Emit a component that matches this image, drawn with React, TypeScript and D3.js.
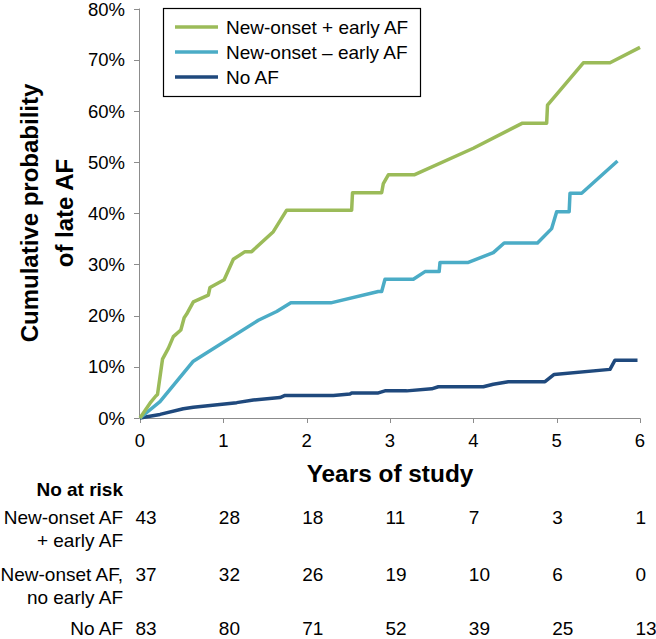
import React from "react";
import * as d3 from "d3";

type Pt = [number, number];

const seriesNames = ["New-onset + early AF", "New-onset – early AF", "No AF"];
const seriesColors = ["#9BBB59", "#4BACC6", "#1F497D"];

const earlyAF: Pt[] = [
  [0, 0], [0.12, 2.9], [0.19, 4.3], [0.21, 4.6], [0.27, 11.5], [0.34, 13.6], [0.4, 15.9],
  [0.49, 17.2], [0.53, 19.6], [0.56, 20.3], [0.64, 22.7], [0.82, 24.0], [0.84, 25.5],
  [1.01, 27.0], [1.12, 31.0], [1.26, 32.5], [1.34, 32.5], [1.6, 36.4], [1.76, 40.6],
  [2.54, 40.6], [2.55, 44.0], [2.9, 44.0], [2.92, 45.8], [2.98, 47.5], [3.29, 47.5],
  [4.0, 52.7], [4.59, 57.6], [4.88, 57.6], [4.89, 61.1], [5.32, 69.4], [5.64, 69.4], [6.0, 72.4],
];
const noEarlyAF: Pt[] = [
  [0, 0], [0.24, 3.2], [0.64, 11.1], [1.42, 19.1], [1.64, 20.8], [1.81, 22.5], [2.29, 22.5],
  [2.86, 24.7], [2.9, 24.7], [2.94, 27.1], [3.28, 27.1], [3.42, 28.6], [3.59, 28.6], [3.6, 30.4],
  [3.94, 30.4], [4.24, 32.3], [4.37, 34.2], [4.77, 34.2], [4.94, 37.0], [5.0, 40.3], [5.15, 40.3],
  [5.16, 43.9], [5.3, 43.9], [5.73, 50.2],
];
const noAF: Pt[] = [
  [0, 0], [0.1, 0.3], [0.24, 0.7], [0.52, 1.8], [0.64, 2.1], [1.16, 3.0], [1.36, 3.5], [1.68, 4.0],
  [1.74, 4.4], [2.32, 4.4], [2.52, 4.7], [2.54, 4.9], [2.86, 4.9], [2.94, 5.3], [3.2, 5.3],
  [3.5, 5.7], [3.58, 6.1], [4.12, 6.1], [4.24, 6.6], [4.42, 7.1], [4.86, 7.1], [4.97, 8.5],
  [5.64, 9.5], [5.7, 11.3], [5.97, 11.3],
];
const seriesData = [earlyAF, noEarlyAF, noAF];

const xTicks = [0, 1, 2, 3, 4, 5, 6];
const yTicks = [0, 10, 20, 30, 40, 50, 60, 70, 80];

const riskRowLabels = [
  ["New-onset AF", "+ early AF"],
  ["New-onset AF,", "no early AF"],
  ["No AF"],
];
const riskEarly = [43, 28, 18, 11, 7, 3, 1];
const riskNoEarly = [37, 32, 26, 19, 10, 6, 0];
const riskNoAF = [83, 80, 71, 52, 39, 25, 13];
const riskRows = [riskEarly, riskNoEarly, riskNoAF];

const FONT = "'Liberation Sans', Arial, Helvetica, sans-serif";

export default function App() {
  const x = d3.scaleLinear().domain([0, 6]).range([140, 640]);
  const y = d3.scaleLinear().domain([0, 80]).range([418, 8.5]);
  const line = d3
    .line<Pt>()
    .x((d) => x(d[0]))
    .y((d) => y(d[1]));
  const axisColor = "#8C8C8C";
  const rowBaselines = [524, 581, 635];

  return (
    <svg
      width={656}
      height={639}
      style={{ position: "absolute", left: 0, top: 0, background: "#fff" }}
      fontFamily={FONT}
    >
      <rect x={0} y={0} width={656} height={639} fill="#fff" />
      {/* axes */}
      <line x1={139.5} x2={139.5} y1={y(80)} y2={y(0)} stroke={axisColor} strokeWidth={1} />
      <line x1={139.5} x2={640.5} y1={418.5} y2={418.5} stroke={axisColor} strokeWidth={1} />
      {yTicks.map((t) => (
        <g key={"y" + t}>
          <line x1={134} x2={139.5} y1={Math.round(y(t)) + 0.5} y2={Math.round(y(t)) + 0.5} stroke={axisColor} />
          <text x={125} y={y(t) + (t === 80 ? 1 : 0)} dy="0.36em" textAnchor="end" fontSize={18.5} fill="#000">
            {t + "%"}
          </text>
        </g>
      ))}
      {xTicks.map((t) => (
        <g key={"x" + t}>
          <line x1={Math.round(x(t)) + 0.5} x2={Math.round(x(t)) + 0.5} y1={418.5} y2={423} stroke={axisColor} />
          <text x={x(t)} y={447} textAnchor="middle" fontSize={18.5} fill="#000">
            {t}
          </text>
        </g>
      ))}

      {/* series */}
      {seriesData
        .map((d, i) => (
          <path
            key={"s" + i}
            d={line(d) || ""}
            fill="none"
            stroke={seriesColors[i]}
            strokeWidth={3.5}
            strokeLinejoin="round"
            strokeLinecap="butt"
          />
        ))
        .reverse()}

      {/* y title */}
      <text
        transform="translate(38,213) rotate(-90)"
        textAnchor="middle"
        fontSize={24}
        fontWeight="bold"
        fill="#000"
      >
        Cumulative probability
      </text>
      <text
        transform="translate(73,213) rotate(-90)"
        textAnchor="middle"
        fontSize={24}
        fontWeight="bold"
        fill="#000"
      >
        of late AF
      </text>

      {/* x title */}
      <text x={390} y={482} textAnchor="middle" fontSize={24.4} fontWeight="bold" fill="#000">
        Years of study
      </text>

      {/* legend */}
      <rect x={163.5} y={8.5} width={257} height={88} fill="#fff" stroke="#000" strokeWidth={1.2} />
      {seriesNames.map((n, i) => (
        <g key={"l" + i}>
          <line x1={175} x2={218} y1={27 + i * 25} y2={27 + i * 25} stroke={seriesColors[i]} strokeWidth={3.5} />
          <text x={226} y={27 + i * 25} dy="0.36em" fontSize={19} fill="#000">
            {n}
          </text>
        </g>
      ))}

      {/* at risk table */}
      <text x={123} y={496} textAnchor="end" fontSize={19} fontWeight="bold" fill="#000">
        No at risk
      </text>
      {riskRows.map((row, ri) => (
        <g key={"r" + ri}>
          {riskRowLabels[ri].map((lab, li) => (
            <text
              key={li}
              x={123}
              y={rowBaselines[ri] + li * 22.5}
              textAnchor="end"
              fontSize={19}
              fill="#000"
            >
              {lab}
            </text>
          ))}
          {row.map((v, ci) => (
            <text key={ci} x={x(xTicks[ci]) - 4.5} y={rowBaselines[ri]} fontSize={19} fill="#000">
              {v}
            </text>
          ))}
        </g>
      ))}
    </svg>
  );
}
